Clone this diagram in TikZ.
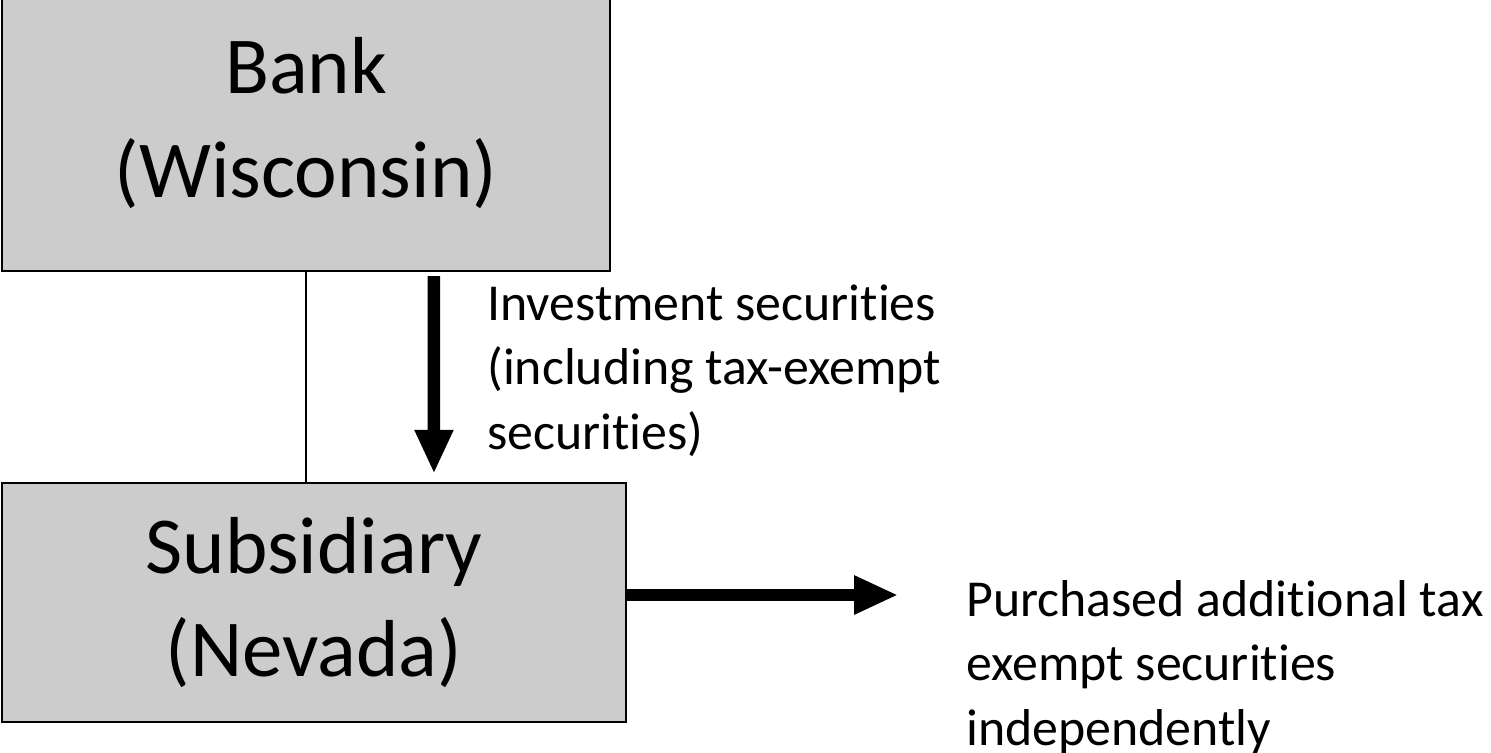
\documentclass[tikz,border=0pt]{standalone}
\usepackage{fontspec}
\setmainfont[Ligatures=NoCommon]{Carlito}
\usetikzlibrary{positioning}
\usetikzlibrary{arrows.meta}
\definecolor{boxgray}{RGB}{204,204,204}

\begin{document}
\begin{tikzpicture}
[x=0.02cm,y=-0.02cm,
 entity/.style={shape=rectangle,draw,line width=1.4pt,fill=boxgray,align=center,
   font=\fontsize{46}{59}\selectfont,inner sep=0pt},
 flow/.style={line width=0.25cm,-{Triangle[width=0.72cm,length=0.88cm]}},
 note/.style={align=left,font=\fontsize{29.5}{36.5}\selectfont,inner sep=0pt,anchor=base west}]

\useasboundingbox (0,0) rectangle (1491,753);

\node (bank) [entity,minimum width=608*0.02cm,minimum height=296*0.02cm]
	at (306,123) {Bank\\(Wisconsin)};
\node (sub) [entity,minimum width=624*0.02cm,minimum height=239*0.02cm]
	at (314,602.5) {Subsidiary\\(Nevada)};

\draw [line width=0.6pt] (bank.south) -- (bank.south |- sub.north);

\draw [flow] ([xshift=2.56cm,yshift=-0.08cm]bank.south)
	-- ([xshift=2.4cm,yshift=0.16cm]sub.north);
\node (invest) [note] at (487,449)
	{Investment securities\\(including tax-exempt\\securities)};

\draw [flow] ([yshift=0.15cm]sub.east) -- ++(271,0) coordinate (buy);
\node (purchase) [note] at (966,745)
	{Purchased additional tax\\exempt securities\\independently};
\end{tikzpicture}
\end{document}
